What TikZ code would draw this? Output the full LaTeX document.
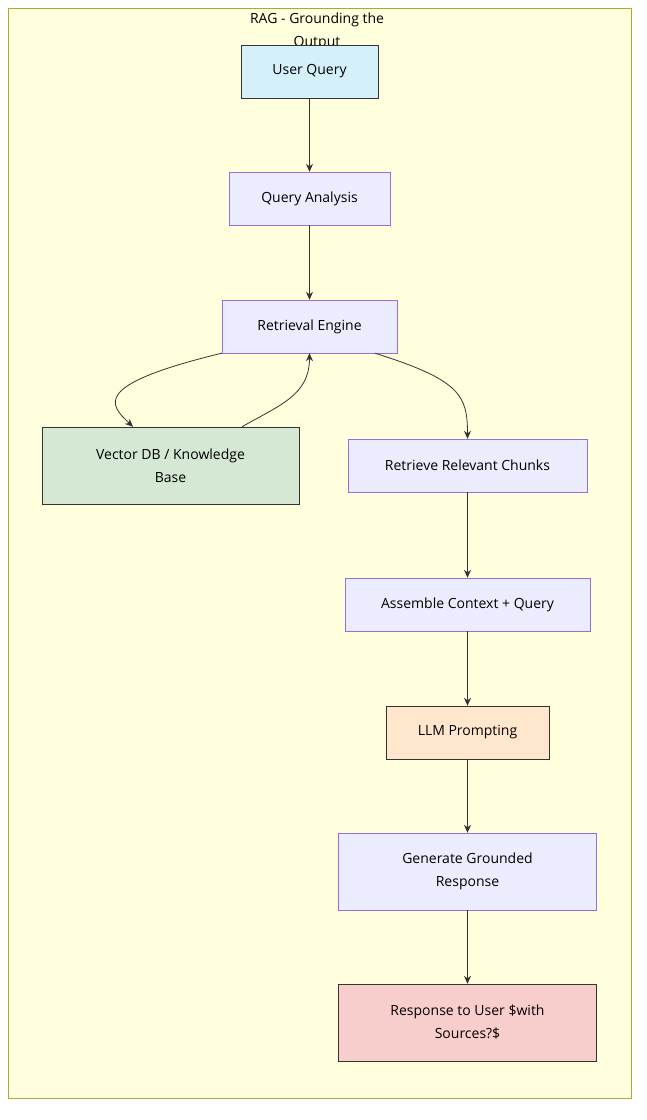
\documentclass[tikz,border=0pt]{standalone}
\usepackage{fontspec}
\setmainfont{Open Sans}
\usetikzlibrary{positioning,arrows.meta}
\definecolor{boxfill}{HTML}{ECECFF}
\definecolor{boxline}{HTML}{9370DB}
\definecolor{groupfill}{HTML}{FFFFDE}
\definecolor{groupline}{HTML}{AAAA33}
\definecolor{edge}{HTML}{333333}
\tikzset{
  stage/.style={draw=boxline, fill=boxfill, minimum height=53pt, align=center, font=\fontsize{14}{23}\selectfont, inner sep=0pt},
  hi/.style={draw=edge},
  flow/.style={draw=edge, line width=0.8pt, -{Stealth[length=8pt,width=7pt]}}
}
\begin{document}
\begin{tikzpicture}[x=1pt,y=-1pt]
    \useasboundingbox (0,0) rectangle (647,1120);
    \draw[groupline, fill=groupfill] (8,8) rectangle (631,1098);
    \node[align=center, font=\fontsize{14}{23}\selectfont] (title) at (317,31) {RAG - Grounding the\\Output};

    \node[stage, hi, fill={rgb,255:red,212;green,241;blue,249}, minimum width=137pt] (userQuery) at (309.5,71.5) {User Query};
    \node[stage, minimum width=161pt] (queryAnalysis) at (309.5,198.5) {Query Analysis};
    \node[stage, minimum width=175pt] (retrievalEngine) at (309.5,326.5) {Retrieval Engine};
    \node[stage, hi, fill={rgb,255:red,213;green,232;blue,212}, minimum width=257pt, minimum height=77pt] (vectorDB) at (170.5,465.5) {Vector DB / Knowledge\\Base};
    \node[stage, minimum width=239pt] (chunks) at (467.5,465.5) {Retrieve Relevant Chunks};
    \node[stage, minimum width=245pt] (assemble) at (467.5,604.5) {Assemble Context + Query};
    \node[stage, hi, fill={rgb,255:red,255;green,230;blue,204}, minimum width=163pt] (llm) at (467.5,732.5) {LLM Prompting};
    \node[stage, minimum width=258pt, minimum height=77pt] (generate) at (467.5,871.5) {Generate Grounded\\Response};
    \node[stage, hi, fill={rgb,255:red,248;green,206;blue,204}, minimum width=258pt, minimum height=77pt] (response) at (467.5,1022.5) {Response to User \$with\\Sources?\$};

    \draw[flow] (userQuery) -- (queryAnalysis);
    \draw[flow] (queryAnalysis) -- (retrievalEngine);
    \draw[flow] (retrievalEngine.south west) .. controls (90,385) and (110,405) .. (vectorDB.north -| 133,0);
    \draw[flow] (vectorDB.north -| 242,0) .. controls (280,405) and (309.5,395) .. (retrievalEngine.south);
    \draw[flow] (retrievalEngine.south east -| 375,0) .. controls (460,380) and (467.5,395) .. (chunks.north);
    \draw[flow] (chunks) -- (assemble);
    \draw[flow] (assemble) -- (llm);
    \draw[flow] (llm) -- (generate);
    \draw[flow] (generate) -- (response);
\end{tikzpicture}
\end{document}
